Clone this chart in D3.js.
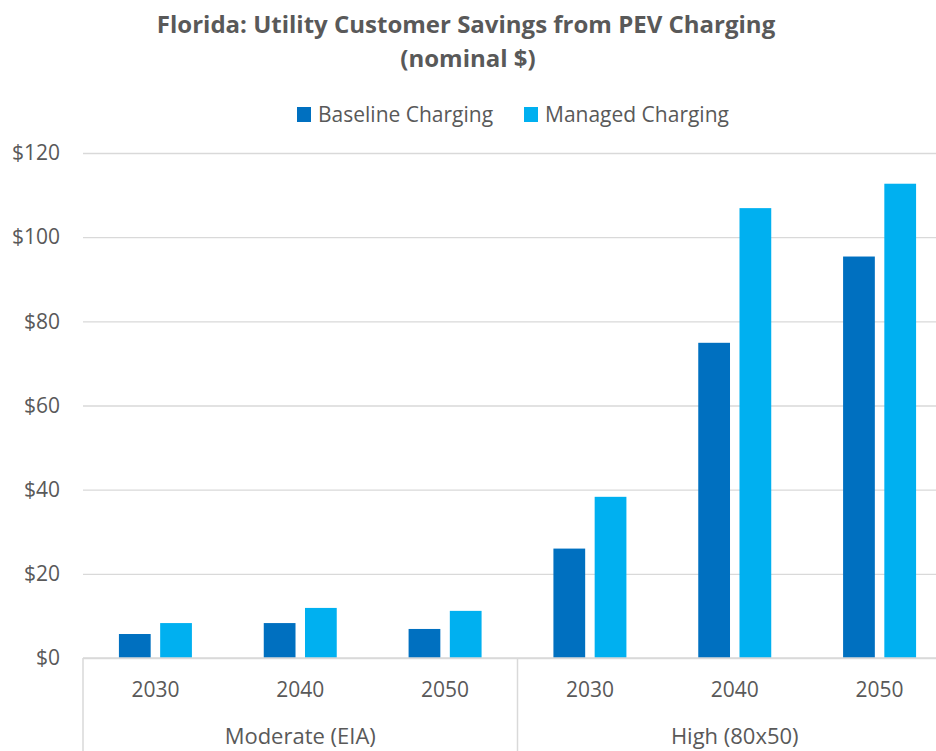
<!DOCTYPE html>
<html>
<head>
<meta charset="utf-8">
<script src="https://cdn.jsdelivr.net/npm/d3@7"></script>
<style>
  body { margin: 0; background: #fff; }
  svg { display: block; font-family: "Open Sans", sans-serif; }
</style>
</head>
<body>
<svg width="936" height="751"></svg>
<script>
// Chart data
var years = ["2030", "2040", "2050", "2030", "2040", "2050"];
var groups = ["Moderate (EIA)", "High (80x50)"];
var seriesNames = ["Baseline Charging", "Managed Charging"];
var baseline = [5.7, 8.3, 6.9, 26.0, 74.9, 95.4];
var managed = [8.3, 11.9, 11.2, 38.3, 106.9, 112.7];
var yTicks = [0, 20, 40, 60, 80, 100, 120];

var colors = ["#0070C0", "#00B0F0"],
    textColor = "#595959",
    gridColor = "#D9D9D9";

var svg = d3.select("svg"),
    margin = {top: 153, left: 83, bottom: 93},
    plotRight = 952, // plot area runs past the picture edge
    height = +svg.attr("height") - margin.top - margin.bottom;

var cats = years.map(function(y, i) { return (i < 3 ? groups[0] : groups[1]) + "|" + y; });

var x0 = d3.scaleBand()
    .domain(cats)
    .range([margin.left, plotRight])
    .paddingInner(0.496)
    .paddingOuter(0.248);

var x1 = d3.scaleBand()
    .domain(seriesNames)
    .range([0, x0.bandwidth()])
    .paddingInner(0.23);

var y = d3.scaleLinear().domain([0, 120]).range([margin.top + height, margin.top]);

// Title
var title = svg.append("text")
    .attr("text-anchor", "middle")
    .attr("fill", textColor)
    .attr("font-weight", "bold")
    .attr("font-size", 24);
title.append("tspan").attr("x", 466).attr("y", 33).text("Florida: Utility Customer Savings from PEV Charging");
title.append("tspan").attr("x", 468).attr("y", 67).text("(nominal $)");

// Legend
var legendX = [297, 524];
var legend = svg.append("g").selectAll("g")
    .data(seriesNames)
    .join("g")
    .attr("transform", function(d, i) { return "translate(" + legendX[i] + ",107)"; });
legend.append("rect")
    .attr("width", 14).attr("height", 15)
    .attr("fill", function(d, i) { return colors[i]; });
legend.append("text")
    .attr("x", 21).attr("y", 8)
    .attr("dy", "0.35em")
    .attr("font-size", 21)
    .attr("fill", textColor)
    .text(function(d) { return d; });

// Y axis with gridlines
var yGroup = svg.append("g")
    .attr("transform", "translate(" + margin.left + ",0)")
    .call(d3.axisLeft(y)
        .tickValues(yTicks)
        .tickFormat(function(d) { return "$" + d; })
        .tickSize(-(plotRight - margin.left))
        .tickPadding(23));
yGroup.select(".domain").remove();
yGroup.selectAll(".tick line").attr("stroke", gridColor).attr("stroke-width", 1.3);
yGroup.selectAll(".tick text")
    .attr("fill", textColor)
    .attr("font-size", 21)
    .attr("font-family", "'Open Sans', sans-serif");

// Bars
var rows = cats.map(function(c, i) { return {cat: c, values: [baseline[i], managed[i]]}; });
var catG = svg.append("g").selectAll("g")
    .data(rows)
    .join("g")
    .attr("transform", function(d) { return "translate(" + x0(d.cat) + ",0)"; });
catG.selectAll("rect")
    .data(function(d) { return d.values.map(function(v, i) { return {name: seriesNames[i], v: v, i: i}; }); })
    .join("rect")
    .attr("x", function(d) { return x1(d.name); })
    .attr("y", function(d) { return y(d.v); })
    .attr("width", x1.bandwidth())
    .attr("height", function(d) { return y(0) - y(d.v); })
    .attr("fill", function(d) { return colors[d.i]; });

// X axis: baseline, group separators and labels
var base = y(0);
svg.append("line")
    .attr("x1", margin.left).attr("x2", plotRight)
    .attr("y1", base).attr("y2", base)
    .attr("stroke", gridColor).attr("stroke-width", 1.5);

var step = x0.step();
var groupEdges = [margin.left, margin.left + 3 * step];
svg.append("g").selectAll("line")
    .data(groupEdges)
    .join("line")
    .attr("x1", function(d) { return d; }).attr("x2", function(d) { return d; })
    .attr("y1", base).attr("y2", 751)
    .attr("stroke", gridColor).attr("stroke-width", 1.5);

svg.append("g").selectAll("text")
    .data(cats)
    .join("text")
    .attr("x", function(d) { return x0(d) + x0.bandwidth() / 2; })
    .attr("y", 690)
    .attr("dy", "0.35em")
    .attr("text-anchor", "middle")
    .attr("font-size", 21)
    .attr("fill", textColor)
    .text(function(d) { return d.split("|")[1]; });

svg.append("g").selectAll("text")
    .data(groups)
    .join("text")
    .attr("x", function(d, i) { return groupEdges[0] + step * (3 * i + 1.5); })
    .attr("y", 736)
    .attr("dy", "0.35em")
    .attr("text-anchor", "middle")
    .attr("font-size", 22)
    .attr("fill", textColor)
    .text(function(d) { return d; });
</script>
</body>
</html>
